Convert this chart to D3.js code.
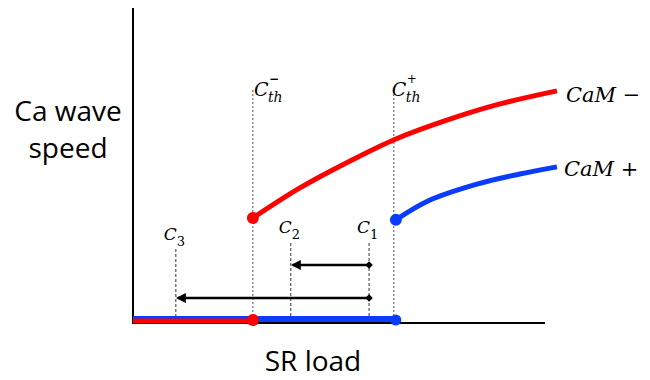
<!DOCTYPE html>
<html>
<head>
<meta charset="utf-8">
<script src="https://cdn.jsdelivr.net/npm/d3@7"></script>
<style>
  body { margin: 0; background: #fff; }
  svg { display: block; }
</style>
</head>
<body>
<svg width="650" height="380"></svg>
<script>
// data (SR load 0..1, wave speed 0..1)
var camMinusX = [0.291, 0.405, 0.527, 0.638, 0.769, 0.891, 1.029];
var camMinusY = [0.329, 0.426, 0.513, 0.584, 0.648, 0.697, 0.739];
var camPlusX = [0.638, 0.716, 0.837, 0.939, 1.029];
var camPlusY = [0.323, 0.384, 0.439, 0.471, 0.494];
var thresholdX = [0.291, 0.633];      // C_th-, C_th+
var loadX = [0.573, 0.383, 0.104];    // C1, C2, C3
var loadNames = ["1", "2", "3"];

var svg = d3.select("svg");

var x = d3.scaleLinear().domain([0, 1]).range([133, 545]);
var y = d3.scaleLinear().domain([0, 1]).range([320, 10]);

var mathFont = "'DejaVu Serif', serif";
var sansFont = "'Open Sans', sans-serif";

// dashed guides
thresholdX.forEach(function(v) {
  svg.append("line").attr("x1", x(v)).attr("x2", x(v))
    .attr("y1", 90).attr("y2", 323)
    .attr("stroke", "#555").attr("stroke-width", 1).attr("stroke-dasharray", "2,2");
});

var loadTop = [243, 243, 249];
loadX.forEach(function(v, i) {
  svg.append("line").attr("x1", x(v)).attr("x2", x(v))
    .attr("y1", loadTop[i]).attr("y2", 323)
    .attr("stroke", "#333").attr("stroke-width", 1).attr("stroke-dasharray", "3,2");
});

// axes
svg.append("line").attr("x1", 133).attr("x2", 133).attr("y1", 8).attr("y2", 324)
  .attr("stroke", "#000").attr("stroke-width", 2);
svg.append("line").attr("x1", 132).attr("x2", 545).attr("y1", 323).attr("y2", 323)
  .attr("stroke", "#000").attr("stroke-width", 2);

// zero-speed branches
svg.append("line").attr("x1", x(0)).attr("x2", x(thresholdX[1] + 0.005))
  .attr("y1", y(0) - 1).attr("y2", y(0) - 1)
  .attr("stroke", "#0a3cff").attr("stroke-width", 6);
svg.append("line").attr("x1", x(0)).attr("x2", x(thresholdX[0]))
  .attr("y1", y(0) + 1).attr("y2", y(0) + 1)
  .attr("stroke", "#ff0000").attr("stroke-width", 5);

// curves
var line = d3.line()
  .x(function(d) { return x(d[0]); })
  .y(function(d) { return y(d[1]); })
  .curve(d3.curveCatmullRom);

svg.append("path").datum(d3.zip(camMinusX, camMinusY))
  .attr("d", line).attr("fill", "none")
  .attr("stroke", "#ff0000").attr("stroke-width", 5);
svg.append("path").datum(d3.zip(camPlusX, camPlusY))
  .attr("d", line).attr("fill", "none")
  .attr("stroke", "#0a3cff").attr("stroke-width", 5);

// dots
svg.append("circle").attr("cx", x(camMinusX[0])).attr("cy", y(camMinusY[0])).attr("r", 6).attr("fill", "#ff0000");
svg.append("circle").attr("cx", x(camPlusX[0])).attr("cy", y(camPlusY[0])).attr("r", 6).attr("fill", "#0a3cff");
svg.append("circle").attr("cx", x(thresholdX[0])).attr("cy", y(0)).attr("r", 6).attr("fill", "#ff0000");
svg.append("circle").attr("cx", x(thresholdX[1]) + 2).attr("cy", y(0)).attr("r", 5.5).attr("fill", "#0a3cff");

// arrows
var defs = svg.append("defs");
defs.append("marker").attr("id", "head")
  .attr("viewBox", "0 0 10 10").attr("refX", 8).attr("refY", 5)
  .attr("markerWidth", 4).attr("markerHeight", 4).attr("orient", "auto")
  .attr("markerUnits", "strokeWidth")
  .append("path").attr("d", "M10,5L0,0L0,10Z").attr("fill", "#000");
defs.append("marker").attr("id", "diamond")
  .attr("viewBox", "0 0 10 10").attr("refX", 5).attr("refY", 5)
  .attr("markerWidth", 3).attr("markerHeight", 3)
  .append("path").attr("d", "M0,5L5,0L10,5L5,10Z").attr("fill", "#000");

var arrowY = [265, 298];
[loadX[1], loadX[2]].forEach(function(v, i) {
  svg.append("line")
    .attr("x1", x(loadX[0])).attr("x2", x(v) + 2)
    .attr("y1", arrowY[i]).attr("y2", arrowY[i])
    .attr("stroke", "#000").attr("stroke-width", 2.5)
    .attr("marker-start", "url(#diamond)")
    .attr("marker-end", "url(#head)");
});

// threshold labels: C with sub "th" and sup sign
function thLabel(px, sign) {
  svg.append("text").attr("x", px).attr("y", 96)
    .attr("font-family", mathFont).attr("font-style", "italic").attr("font-size", 19)
    .text("C");
  svg.append("text").attr("x", px + 14).attr("y", 102)
    .attr("font-family", mathFont).attr("font-style", "italic").attr("font-size", 14)
    .text("th");
  svg.append("text").attr("x", px + 15).attr("y", 83)
    .attr("font-family", mathFont).attr("font-size", 12).attr("font-weight", sign == "+" ? "normal" : "bold")
    .text(sign);
}
thLabel(x(thresholdX[0]) + 1, "\u2212");
thLabel(x(thresholdX[1]) - 2, "+");

// load labels
var labelY = [233, 233, 240];
loadX.forEach(function(v, i) {
  var t = svg.append("text").attr("x", x(v) - 12).attr("y", labelY[i])
    .attr("font-family", mathFont).attr("font-size", 17);
  t.append("tspan").attr("font-style", "italic").text("C");
  t.append("tspan").attr("dy", 6).attr("font-size", 13).text(loadNames[i]);
});

// series labels
svg.append("text").attr("x", 566).attr("y", 102)
  .attr("font-family", mathFont).attr("font-size", 21)
  .html("<tspan font-style='italic'>CaM</tspan> \u2212");
svg.append("text").attr("x", 564).attr("y", 176)
  .attr("font-family", mathFont).attr("font-size", 21)
  .html("<tspan font-style='italic'>CaM</tspan> +");

// axis titles
svg.append("text").attr("x", 68).attr("y", 121).attr("text-anchor", "middle")
  .attr("font-family", sansFont).attr("font-size", 28).text("Ca wave");
svg.append("text").attr("x", 68).attr("y", 158).attr("text-anchor", "middle")
  .attr("font-family", sansFont).attr("font-size", 28).text("speed");
svg.append("text").attr("x", 313).attr("y", 371).attr("text-anchor", "middle")
  .attr("font-family", sansFont).attr("font-size", 28).text("SR load");
</script>
</body>
</html>
